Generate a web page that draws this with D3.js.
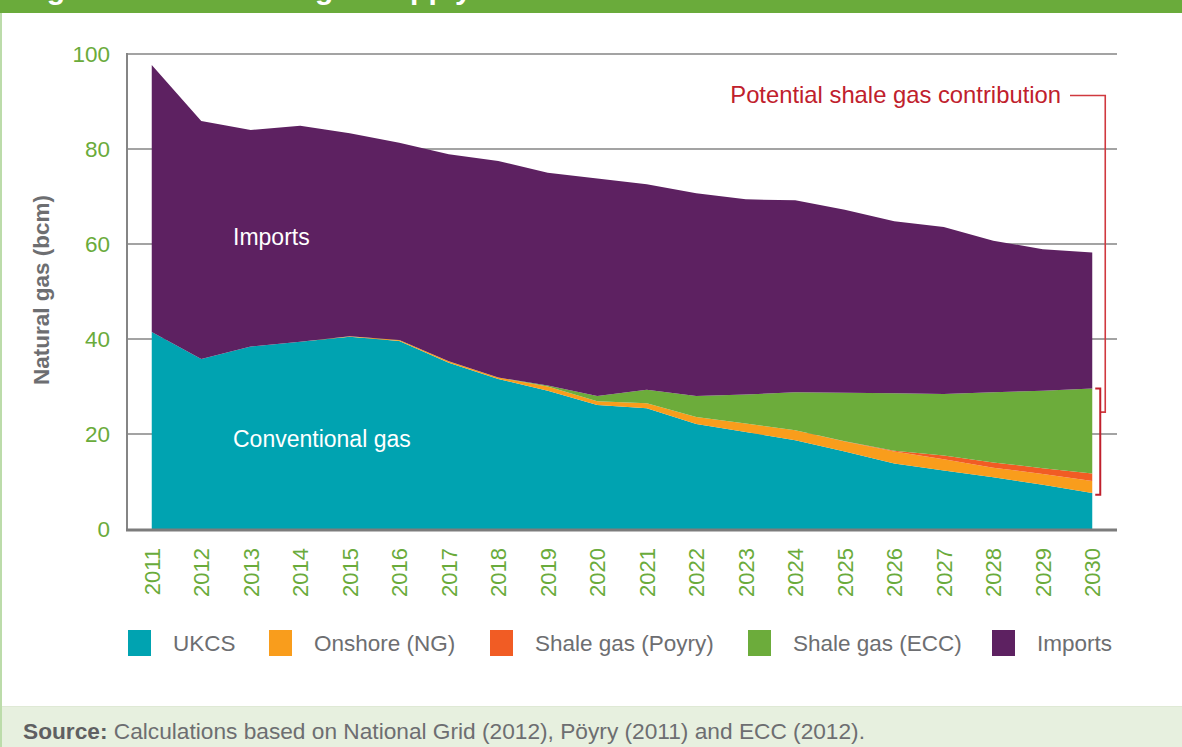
<!DOCTYPE html>
<html><head><meta charset="utf-8">
<script src="https://cdn.jsdelivr.net/npm/d3@7"></script>
<style>
body{margin:0;background:#fff;}
svg{display:block;font-family:"Liberation Sans",Arial,Helvetica,sans-serif;}
</style>
</head><body>
<svg id="c" width="1182" height="747"></svg>
<script>
const years = [2011,2012,2013,2014,2015,2016,2017,2018,2019,2020,2021,2022,2023,2024,2025,2026,2027,2028,2029,2030];
const ukcs       = [41.5,35.8,38.4,39.4,40.5,39.6,35.0,31.6,29.1,26.1,25.4,22.1,20.4,18.7,16.3,13.8,12.3,10.9,9.3,7.6];
const onshore    = [0,0,0,0,0.1,0.2,0.3,0.3,0.9,0.8,1.1,1.5,1.8,2.1,2.1,2.5,2.4,2.0,2.3,2.5];
const shalePoyry = [0,0,0,0,0,0,0,0,0,0,0,0,0,0,0.1,0.2,0.8,1.1,1.2,1.6];
const shaleECC   = [0,0,0,0,0,0,0,0,0.2,1.1,2.8,4.4,6.1,8.0,10.2,12.1,12.9,14.8,16.3,17.9];
const imports    = [56.2,50.1,45.6,45.5,42.7,41.5,43.6,45.6,44.8,45.8,43.3,42.7,41.1,40.4,38.5,36.2,35.2,31.9,29.8,28.6];
const seriesKeys  = ["ukcs","onshore","poyry","ecc","imports"];
const seriesNames = ["UKCS","Onshore (NG)","Shale gas (Poyry)","Shale gas (ECC)","Imports"];
const seriesColors = ["#00a3b1","#f99d1c","#f15c24","#6cac3b","#5d2161"];
const yTicks = [0,20,40,60,80,100];

(function(){
const svg = d3.select("#c");
const W = 1182, H = 747;
const green = "#6aab3b";

// header bar (title text mostly cut off above the frame, as in the reference)
svg.append("rect").attr("x",0).attr("y",0).attr("width",W).attr("height",13).attr("fill",green);
svg.append("text").attr("x",20).attr("y",-1).attr("fill","#fff").attr("font-weight","bold")
  .attr("font-size",30).text("Figure 4: UK natural gas supply");
// left border
svg.append("rect").attr("x",0).attr("y",13).attr("width",2).attr("height",H-13).attr("fill","#bcdcaa");
// footer
svg.append("rect").attr("x",2).attr("y",706).attr("width",W-2).attr("height",41).attr("fill","#e7f0df");
svg.append("line").attr("x1",2).attr("x2",W).attr("y1",706.5).attr("y2",706.5).attr("stroke","#dfe9d5");
const src = svg.append("text").attr("x",23).attr("y",739).attr("font-size",22.7).attr("fill","#6d6e71");
src.append("tspan").attr("font-weight","bold").attr("fill","#5f6062").text("Source:");
src.append("tspan").text(" Calculations based on National Grid (2012), Pöyry (2011) and ECC (2012).");

const pLeft = 127, pRight = 1117, pTop = 54, pBottom = 529;
const x = d3.scalePoint().domain(years).range([pLeft,pRight]).padding(0.5);
const y = d3.scaleLinear().domain([0,100]).range([pBottom,pTop]);

// gridlines
svg.append("g").selectAll("line").data(yTicks.filter(d=>d>0)).join("line")
  .attr("x1",pLeft).attr("x2",pRight).attr("y1",d=>y(d)).attr("y2",d=>y(d))
  .attr("stroke","#858585").attr("stroke-width",1.5);

// stacked areas
const rows = years.map((yr,i)=>({year:yr,ukcs:ukcs[i],onshore:onshore[i],poyry:shalePoyry[i],ecc:shaleECC[i],imports:imports[i]}));
const stack = d3.stack().keys(seriesKeys)(rows);
const area = d3.area().x(d=>x(d.data.year)).y0(d=>y(d[0])).y1(d=>y(d[1]));
svg.append("g").selectAll("path").data(stack).join("path")
  .attr("d",area).attr("fill",(d,i)=>seriesColors[i]);

// axes
svg.append("line").attr("x1",pLeft).attr("x2",pLeft).attr("y1",pTop-1).attr("y2",pBottom)
  .attr("stroke","#858585").attr("stroke-width",2);
svg.append("line").attr("x1",pLeft-1).attr("x2",pRight).attr("y1",pBottom+1).attr("y2",pBottom+1)
  .attr("stroke","#7c7c7c").attr("stroke-width",3);

// y tick labels
svg.append("g").selectAll("text").data(yTicks).join("text")
  .attr("x",110).attr("y",d=>y(d)).attr("dy","0.35em").attr("text-anchor","end")
  .attr("font-size",22.5).attr("fill",green).text(d=>d);
// y axis title
svg.append("text").attr("transform",`translate(49,290) rotate(-90)`).attr("text-anchor","middle")
  .attr("font-size",22.5).attr("font-weight","bold").attr("fill","#6d6e71").text("Natural gas (bcm)");

// x tick labels
svg.append("g").selectAll("text").data(years).join("text")
  .attr("transform",d=>`translate(${x(d)},548) rotate(-90)`).attr("dy","0.36em").attr("text-anchor","end")
  .attr("font-size",22).attr("fill",green).text(d=>d);

// area labels
svg.append("text").attr("x",233).attr("y",245).attr("fill","#fff").attr("font-size",23).text("Imports");
svg.append("text").attr("x",233).attr("y",447).attr("fill","#fff").attr("font-size",23).text("Conventional gas");

// annotation
const red = "#c0202c";
svg.append("text").attr("x",1061).attr("y",103).attr("text-anchor","end").attr("fill",red)
  .attr("font-size",23.8).text("Potential shale gas contribution");
const last = years.length-1;
const yTop = y(ukcs[last]+onshore[last]+shalePoyry[last]+shaleECC[last]);
const yBot = y(ukcs[last]-0.4);
const xb = x(years[last]) + 8, xl = xb + 5;
svg.append("path").attr("d",`M1070,95.5 H${xl} V${y(24.6)} H${xb}`)
  .attr("fill","none").attr("stroke","#d0393f").attr("stroke-width",1.6);
svg.append("path").attr("d",`M${xb-5},${yTop} H${xb} V${yBot} H${xb-5}`)
  .attr("fill","none").attr("stroke",red).attr("stroke-width",2);

// legend
const legX = [128,269,490,748,992];
const lg = svg.append("g").selectAll("g").data(seriesNames).join("g")
  .attr("transform",(d,i)=>`translate(${legX[i]},630)`);
lg.append("rect").attr("width",23).attr("height",26).attr("fill",(d,i)=>seriesColors[i]);
lg.append("text").attr("x",45).attr("y",13).attr("dy","0.36em").attr("font-size",22.5)
  .attr("fill","#6d6e71").text(d=>d);
})();
</script>
</body></html>
